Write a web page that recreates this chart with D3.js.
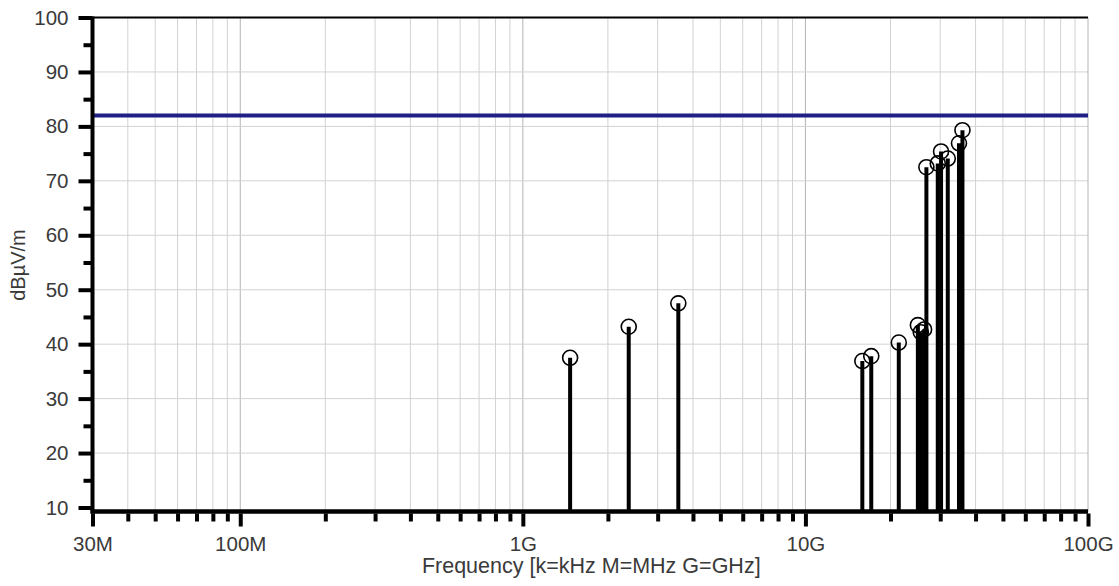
<!DOCTYPE html>
<html>
<head>
<meta charset="utf-8">
<script src="https://cdn.jsdelivr.net/npm/d3@7"></script>
<style>
  body { margin: 0; background: #fff; }
  svg text { font-family: "Liberation Sans", Arial, sans-serif; fill: #3a3a3a; }
</style>
</head>
<body>
<div id="chart"></div>
<script>
// measured peaks (frequency in Hz, level in dBuV/m)
var peakFreq = [1.47e9, 2.37e9, 3.55e9, 15.9e9, 17.1e9, 21.4e9, 25.0e9, 25.6e9, 26.3e9,
  26.8e9, 29.4e9, 30.2e9, 31.9e9, 34.95e9, 35.95e9];
var peakLevel = [37.5, 43.2, 47.5, 36.9, 37.8, 40.3, 43.5, 42.2, 42.7,
  72.5, 73.2, 75.4, 74.1, 76.9, 79.3];
var limitLevel = 82;

var xTickValues = [30e6, 1e8, 1e9, 1e10, 1e11];
var xTickLabels = ["30M", "100M", "1G", "10G", "100G"];
var yTickValues = [10, 20, 30, 40, 50, 60, 70, 80, 90, 100];
var yMinorValues = [15, 25, 35, 45, 55, 65, 75, 85, 95];

var W = 1119, H = 586;
var plotL = 92.5, plotR = 1088, plotT = 17.5, plotB = 507.5, baseY = 511.5;

var x = d3.scaleLog().domain([30e6, 100e9]).range([plotL, plotR]);
var y = d3.scaleLinear().domain([10, 100]).range([plotB, plotT]);

// minor x positions: 2..9 of every decade inside the domain
var xMinor = [];
[1e7, 1e8, 1e9, 1e10].forEach(function(dec) {
  for (var k = 2; k <= 9; k++) {
    var v = dec * k;
    if (v > 30e6 && v < 100e9) xMinor.push(v);
  }
});

var svg = d3.select("#chart").append("svg")
  .attr("width", W).attr("height", H);

// grid
var grid = svg.append("g");
grid.selectAll("line.vmin").data(xMinor).enter().append("line")
  .attr("x1", d => x(d)).attr("x2", d => x(d))
  .attr("y1", plotT).attr("y2", baseY)
  .attr("stroke", "#d2d2d2").attr("stroke-width", 1);
grid.selectAll("line.vmaj").data([1e8, 1e9, 1e10]).enter().append("line")
  .attr("x1", d => x(d)).attr("x2", d => x(d))
  .attr("y1", plotT).attr("y2", baseY)
  .attr("stroke", "#b4b4b4").attr("stroke-width", 1);
grid.selectAll("line.h").data(yTickValues.slice(1, -1)).enter().append("line")
  .attr("x1", plotL).attr("x2", plotR)
  .attr("y1", d => y(d)).attr("y2", d => y(d))
  .attr("stroke", "#d2d2d2").attr("stroke-width", 1);
grid.append("line")
  .attr("x1", plotR).attr("x2", plotR).attr("y1", plotT).attr("y2", baseY)
  .attr("stroke", "#b4b4b4");

// limit line
svg.append("line")
  .attr("x1", plotL).attr("x2", plotR)
  .attr("y1", y(limitLevel)).attr("y2", y(limitLevel))
  .attr("stroke", "#1f1f86").attr("stroke-width", 4);

// stems and markers
var peaks = peakFreq.map(function(f, i) { return {f: f, v: peakLevel[i]}; });
svg.selectAll("line.stem").data(peaks).enter().append("line")
  .attr("x1", d => x(d.f)).attr("x2", d => x(d.f))
  .attr("y1", baseY).attr("y2", d => y(d.v))
  .attr("stroke", "#000").attr("stroke-width", 4);
svg.selectAll("circle").data(peaks).enter().append("circle")
  .attr("cx", d => x(d.f)).attr("cy", d => y(d.v)).attr("r", 7.5)
  .attr("fill", "none").attr("stroke", "#000").attr("stroke-width", 1.6);

// top border
svg.append("line")
  .attr("x1", plotL).attr("x2", plotR).attr("y1", plotT).attr("y2", plotT)
  .attr("stroke", "#000").attr("stroke-width", 2);

// x axis
var xAxisG = svg.append("g").attr("transform", "translate(0," + (baseY + 2) + ")");
xAxisG.append("g").call(d3.axisBottom(x).tickValues(xMinor).tickSize(8).tickFormat(""));
xAxisG.append("g").call(d3.axisBottom(x).tickValues(xTickValues).tickSize(13)
  .tickFormat((d, i) => xTickLabels[i]));
xAxisG.selectAll("path.domain").remove();
xAxisG.selectAll(".tick line").attr("stroke", "#000").attr("stroke-width", 4);
xAxisG.selectAll(".tick text").attr("y", 23).attr("dy", "0.71em")
  .style("font-size", "20.5px").style("fill", "#3a3a3a");
svg.append("line")
  .attr("x1", plotL - 2).attr("x2", plotR).attr("y1", baseY).attr("y2", baseY)
  .attr("stroke", "#000").attr("stroke-width", 4.5);

// y axis
var yAxisG = svg.append("g").attr("transform", "translate(" + plotL + ",0)");
yAxisG.append("g").call(d3.axisLeft(y).tickValues(yMinorValues).tickSize(9).tickFormat(""));
yAxisG.append("g").call(d3.axisLeft(y).tickValues(yTickValues).tickSize(14));
yAxisG.selectAll("path.domain").remove();
yAxisG.selectAll(".tick line").attr("stroke", "#000").attr("stroke-width", 4);
yAxisG.selectAll(".tick text").attr("x", -24)
  .style("font-size", "20.5px").style("fill", "#3a3a3a");
svg.append("line")
  .attr("x1", plotL).attr("x2", plotL).attr("y1", plotT - 1).attr("y2", baseY + 2)
  .attr("stroke", "#000").attr("stroke-width", 4);

// axis titles
svg.append("text")
  .attr("x", (plotL + plotR) / 2 + 1).attr("y", 573)
  .attr("text-anchor", "middle")
  .style("font-size", "21.5px")
  .text("Frequency [k=kHz M=MHz G=GHz]");

svg.append("text")
  .attr("transform", "translate(25,265) rotate(-90)")
  .attr("text-anchor", "middle")
  .style("font-size", "20px")
  .text("dBµV/m");
</script>
</body>
</html>
